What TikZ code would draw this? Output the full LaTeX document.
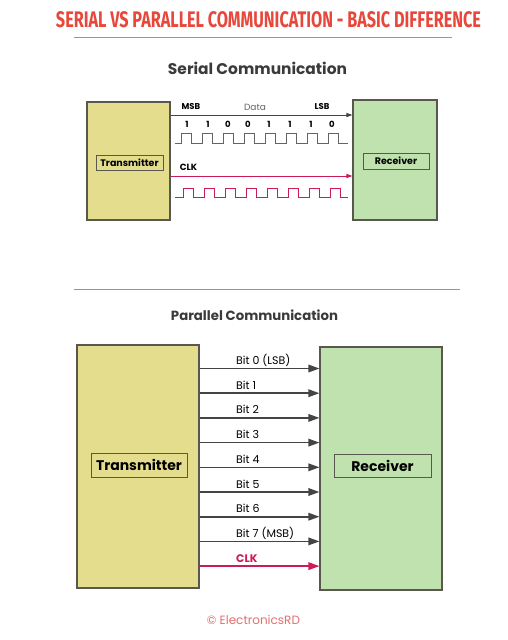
\documentclass[tikz,border=0pt]{standalone}
\usepackage{fontspec}
\setmainfont{Poppins}
\newfontfamily\titlefont{Fira Sans}
\usetikzlibrary{arrows.meta}
\definecolor{titlered}{RGB}{232,72,60}
\definecolor{rulegray}{RGB}{150,150,150}
\definecolor{headgray}{RGB}{58,58,58}
\definecolor{txfill}{RGB}{229,221,142}
\definecolor{rxfill}{RGB}{192,226,174}
\definecolor{boxline}{RGB}{88,88,78}
\definecolor{arrowgray}{RGB}{68,68,68}
\definecolor{clkred}{RGB}{204,28,84}
\definecolor{copyred}{RGB}{226,112,110}
\definecolor{datagray}{RGB}{100,100,100}
\begin{document}
\begin{tikzpicture}[x=1pt,y=-1pt,
  blockbox/.style={draw=boxline, line width=1.1pt, inner sep=0pt},
  txbox/.style={blockbox, fill=txfill},
  rxbox/.style={blockbox, fill=rxfill},
  lblbox/.style={draw=boxline, line width=0.9pt, inner sep=0pt, font=\bfseries},
  sarrow/.style={draw=arrowgray, line width=0.9pt, -{Triangle[length=6pt,width=4pt]}},
  sclk/.style={draw=clkred, line width=0.9pt, -{Triangle[length=6pt,width=4pt]}},
  wave/.style={draw=datagray, line width=0.9pt},
  clkwave/.style={draw=clkred, line width=0.9pt},
  slab/.style={inner sep=0pt, font=\bfseries\fontsize{8.5}{9}\selectfont},
  parrow/.style={draw=arrowgray, line width=1.6pt, -{Triangle[length=11pt,width=7.5pt]}},
  pclk/.style={draw=clkred, line width=1.6pt, -{Triangle[length=11pt,width=7.5pt]}},
  plab/.style={inner sep=0pt, anchor=base west, font=\fontsize{11}{12}\selectfont}
]
\useasboundingbox (0,0) rectangle (508,640);
\fill[white] (0,0) rectangle (508,640);

% title
\node[inner sep=0pt, text=titlered] (title) at (268.5,20)
  {\resizebox{425pt}{16pt}{\titlefont\bfseries SERIAL VS PARALLEL COMMUNICATION - BASIC DIFFERENCE}};
\coordinate (r1a) at (74,37);
\coordinate (r1b) at (452,37);
\draw[rulegray, line width=0.8pt] (r1a) -- (r1b);

% ---------- serial ----------
\node[inner sep=0pt, text=headgray] (serhead) at (257.5,68)
  {\resizebox{179pt}{!}{\bfseries Serial Communication}};

\node[txbox, minimum width=83pt, minimum height=118pt] (stx) at (128.5,161) {};
\node[rxbox, minimum width=84pt, minimum height=120pt] (srx) at (395,160) {};
\node[lblbox, fill=txfill, minimum width=67pt, minimum height=15pt, font=\bfseries\fontsize{9.5}{10}\selectfont] (stxl) at (129.5,162.5) {Transmitter};
\node[lblbox, fill=rxfill, minimum width=66pt, minimum height=16pt, font=\bfseries\fontsize{9.5}{10}\selectfont] (srxl) at (396,161) {Receiver};

\draw[sarrow] (stx.east |- 0,115) -- (srx.west |- 0,115);
\draw[sclk] (stx.east |- 0,176) -- (srx.west |- 0,176);

\node[slab] (msb) at (191,107) {MSB};
\node[inner sep=0pt, text=datagray, font=\fontsize{9}{10}\selectfont] (data) at (255,107) {Data};
\node[slab] (lsb) at (322,107) {LSB};
\foreach \x/\b [count=\i] in {187/1,208/1,228/0,248/0,269/1,290/1,311/1,332/0}
  \node[slab] (sbit\i) at (\x,124.5) {\b};
\node[slab, font=\bfseries\fontsize{9}{10}\selectfont] (sclkl) at (188.5,167) {CLK};

\draw[wave] (175,143) foreach \k in {0,...,7} {
  -- ({181+21*\k},143) -- ({181+21*\k},133) -- ({191+21*\k},133) -- ({191+21*\k},143)} -- (348,143);
\draw[clkwave] (175,197.5) foreach \k in {0,...,7} {
  -- ({183+21*\k},197.5) -- ({183+21*\k},188.5) -- ({193+21*\k},188.5) -- ({193+21*\k},197.5)} -- (348,197.5);

% separator
\coordinate (r2a) at (74,289);
\coordinate (r2b) at (460,289);
\draw[rulegray, line width=0.8pt] (r2a) -- (r2b);

% ---------- parallel ----------
\node[inner sep=0pt, text=headgray] (parhead) at (254.5,315)
  {\resizebox{167pt}{!}{\bfseries Parallel Communication}};

\node[txbox, minimum width=122pt, minimum height=243pt] (ptx) at (138,466.5) {};
\node[rxbox, minimum width=122pt, minimum height=243pt] (prx) at (381,468.5) {};
\node[lblbox, fill=txfill, minimum width=96pt, minimum height=24pt, font=\bfseries\fontsize{14}{15}\selectfont] (ptxl) at (139,465) {Transmitter};
\node[lblbox, fill=rxfill, minimum width=97pt, minimum height=23pt, font=\bfseries\fontsize{14}{15}\selectfont] (prxl) at (382.5,465.5) {Receiver};

\foreach \lab [count=\i from 0] in {{Bit 0 (LSB)},{Bit 1},{Bit 2},{Bit 3},{Bit 4},{Bit 5},{Bit 6},{Bit 7 (MSB)}} {
  \pgfmathsetmacro\yy{368.5+24.7*\i}
  \pgfmathsetmacro\yl{\yy-4}
  \draw[parrow] (ptx.east |- 0,\yy) -- (prx.west |- 0,\yy);
  \node[plab] (pl\i) at (236,\yl) {\lab};
}
\draw[pclk] (ptx.east |- 0,566.1) -- (prx.west |- 0,566.1);
\node[plab, text=clkred, font=\bfseries\fontsize{11}{12}\selectfont] (pclkl) at (236,562) {CLK};

\node[inner sep=0pt, text=copyred, font=\fontsize{12}{13}\selectfont] (copy) at (253.5,620) {© ElectronicsRD};
\end{tikzpicture}
\end{document}
